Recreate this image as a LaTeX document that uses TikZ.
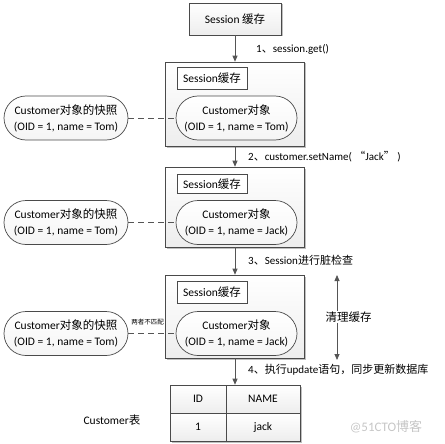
\documentclass[tikz,border=0pt]{standalone}
\usepackage{fontspec}
\setmainfont{Carlito}
\newfontfamily\cjk{Noto Sans CJK SC}
\usetikzlibrary{shapes.misc,shadows,arrows.meta}
\newcommand\zh[1]{{\cjk #1}}
\definecolor{linecol}{HTML}{4A4A4A}
\definecolor{arrcol}{HTML}{555555}
\begin{document}
\begin{tikzpicture}[x=1pt,y=-1pt,
  txt/.style={font=\fontsize{11.5}{16}\selectfont, align=center, inner sep=0pt},
  shad/.style={drop shadow={shadow xshift=1.5pt, shadow yshift=-1.5pt, fill=black, opacity=0.25}},
  bigbox/.style={draw=linecol, line width=0.6pt, rectangle, top color=white, bottom color=gray!14, shad, minimum width=139pt, inner sep=0pt},
  sbox/.style={draw=linecol, line width=0.6pt, rectangle, fill=white, minimum width=70pt, txt},
  pill/.style={rounded rectangle, draw=linecol, line width=0.7pt, top color=white, bottom color=gray!8, minimum height=44pt, txt},
  arr/.style={draw=arrcol, line width=0.8pt, -{Triangle[length=6pt,width=5pt]}},
  dashlink/.style={draw=arrcol, line width=0.7pt, dash pattern=on 6pt off 4pt},
  lab/.style={anchor=west, font=\fontsize{11}{13}\selectfont, inner sep=0pt},
  cell/.style={draw=linecol, line width=0.6pt, rectangle, top color=white, bottom color=gray!14, minimum height=28pt, txt}
]
\useasboundingbox (0,0) rectangle (444,444);
% top box
\node[draw=linecol, line width=0.6pt, rectangle, top color=white, bottom color=gray!14, shad, minimum width=92pt, minimum height=32pt, txt] (top) at (235,19) {Session \zh{缓存}};
% big boxes
\node[bigbox, minimum height=84pt] (b1) at (235,104) {};
\node[bigbox, minimum height=80pt] (b2) at (235,207) {};
\node[bigbox, minimum height=83pt] (b3) at (235,316.5) {};
% inner session boxes
\node[sbox, minimum height=22pt] (s1) at (212,78) {Session\zh{缓存}};
\node[sbox, minimum height=19pt] (s2) at (212,184) {Session\zh{缓存}};
\node[sbox, minimum height=22pt] (s3) at (212,292) {Session\zh{缓存}};
% objects
\node[pill, minimum width=121pt] (o1) at (236.5,118) {Customer\zh{对象}\\(OID = 1, name = Tom)};
\node[pill, minimum width=121pt] (o2) at (236.5,222.5) {Customer\zh{对象}\\(OID = 1, name = Jack)};
\node[pill, minimum width=121pt] (o3) at (236.5,333.5) {Customer\zh{对象}\\(OID = 1, name = Jack)};
% snapshots
\node[pill, minimum width=124pt] (p1) at (66,118) {Customer\zh{对象的快照}\\(OID = 1, name = Tom)};
\node[pill, minimum width=124pt] (p2) at (66,222.5) {Customer\zh{对象的快照}\\(OID = 1, name = Tom)};
\node[pill, minimum width=124pt] (p3) at (66,333.5) {Customer\zh{对象的快照}\\(OID = 1, name = Tom)};
% dashed links
\draw[dashlink] (p1.east) -- (o1.west);
\draw[dashlink] (p2.east) -- (o2.west);
\draw[dashlink] (p3.east) -- (o3.west);
\node[font=\fontsize{6.5}{7}\selectfont, inner sep=0pt] (mis) at (147.5,322) {\zh{两者不匹配}};
% table
\node[draw=linecol, line width=0.6pt, rectangle, fill=white, shad, minimum width=130pt, minimum height=56pt, inner sep=0pt] (tab) at (235,413) {};
\node[cell, minimum width=56pt] (cid) at (198,399) {ID};
\node[cell, minimum width=74pt] (cname) at (263,399) {NAME};
\node[cell, minimum width=56pt] (c1) at (198,427) {1};
\node[cell, minimum width=74pt] (cjack) at (263,427) {jack};
\node[txt] (ctab) at (112,420) {Customer\zh{表}};
% arrows
\draw[arr] (top.south) -- (b1.north);
\draw[arr] (b1.south) -- (b2.north);
\draw[arr] (b2.south) -- (b3.north);
\draw[arr] (b3.south) -- (tab.north);
\node[lab] (l1) at (256,49) {1\zh{、}session.get()};
\node[lab] (l2) at (248,157) {2\zh{、}customer.setName( \zh{“}Jack\zh{”} )};
\node[lab] (l3) at (248,260) {3\zh{、}Session\zh{进行脏检查}};
\node[lab] (l4) at (248,370) {4\zh{、执行}update\zh{语句，同步更新数据库}};
% clean cache double arrow
\coordinate (ct) at (337,275);
\coordinate (cb) at (337,360);
\draw[draw=arrcol, line width=0.8pt, {Triangle[length=6pt,width=5pt]}-{Triangle[length=6pt,width=5pt]}] (ct) -- (cb);
\node[fill=white, font=\fontsize{11.5}{13}\selectfont, inner sep=1pt] (clean) at (348.5,317) {\zh{清理缓存}};
% watermark
\node[text=gray!45, font=\fontsize{13}{15}\selectfont, inner sep=0pt] (wm) at (386,427) {@51CTO\zh{博客}};
\end{tikzpicture}
\end{document}
